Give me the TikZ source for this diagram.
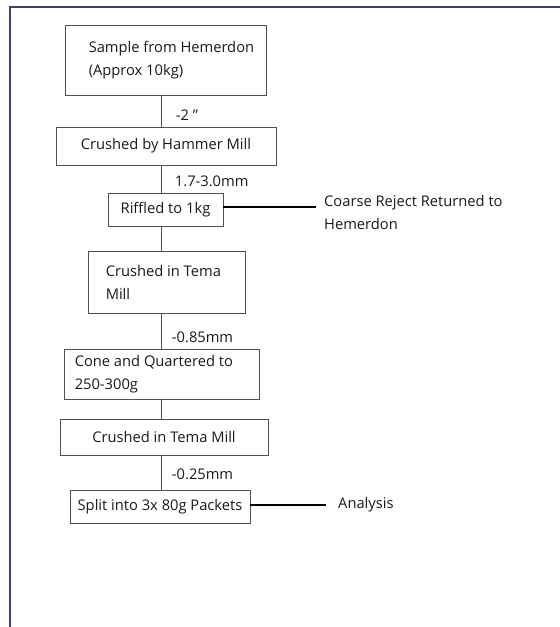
\documentclass[tikz,border=0pt]{standalone}
\usepackage{fontspec}
\setmainfont{Open Sans}
\usetikzlibrary{positioning, calc}
\definecolor{framepurple}{RGB}{74,56,120}
\definecolor{boxgray}{RGB}{80,80,80}
\tikzset{
  stage/.style={rectangle, draw=boxgray, line width=0.9pt, inner sep=0pt},
  stagetext/.style={align=left, inner sep=0pt},
  sizelabel/.style={inner sep=0pt},
  link/.style={draw=boxgray, line width=0.9pt},
  side/.style={draw=black, line width=2pt},
  outnote/.style={align=left, inner sep=0pt}
}

\begin{document}
\begin{tikzpicture}[x=1pt, y=-1pt, every node/.style={font=\fontsize{14.7}{23}\selectfont, text=black!90}]
    \useasboundingbox (0,0) rectangle (560,627);
    % frame
    \draw [framepurple, line width=2.5pt] (10,627) -- (10,7) -- (560,7);
    \coordinate (spine) at (161.5,0);

    \node (b1) [stage, minimum width=201pt, minimum height=70pt] at (165.5,60) {};
    \node (b1txt) [stagetext, right=24pt of b1.west] {Sample from Hemerdon\\(Approx 10kg)};

    \node (b2) [stage, minimum width=220pt, minimum height=38pt] at (166,146) {Crushed by Hammer Mill};

    \node (b3) [stage, minimum width=115pt, minimum height=33pt] at (165.5,209.5) {Riffled to 1kg};

    \node (b4) [stage, minimum width=157pt, minimum height=62pt] at (166.5,282) {};
    \node (b4txt) [stagetext, right=18pt of b4.west] {Crushed in Tema\\Mill};

    \node (b5) [stage, minimum width=195pt, minimum height=50pt] at (161.5,374) {};
    \node (b5txt) [stagetext, right=11pt of b5.west] {Cone and Quartered to\\250-300g};

    \node (b6) [stage, minimum width=208pt, minimum height=36pt] at (164,437) {Crushed in Tema Mill};

    \node (b7) [stage, minimum width=180pt, minimum height=33pt] at (160,506.5) {Split into 3x 80g Packets};

    \node (reject) [outnote, anchor=west] at (324,212) {Coarse Reject Returned to\\Hemerdon};
    \node (analysis) [outnote, anchor=west] at (338,505) {Analysis};
    \coordinate (rejectend) at (316,207);

    % Flechas
    \draw [link] (b1.south -| spine) -- node (cut1) [sizelabel, pos=0.62, right=14pt] {-2 "} (b2.north -| spine);
    \draw [link] (b2.south -| spine) -- node (cut2) [sizelabel, pos=0.57, right=13pt] {1.7-3.0mm} (b3.north -| spine);
    \draw [link] (b3.south -| spine) -- (b4.north -| spine);
    \draw [link] (b4.south -| spine) -- node (cut3) [sizelabel, pos=0.67, right=10pt] {-0.85mm} (b5.north -| spine);
    \draw [link] (b5.south -| spine) -- (b6.north -| spine);
    \draw [link] (b6.south -| spine) -- node (cut4) [sizelabel, pos=0.54, right=10pt] {-0.25mm} (b7.north -| spine);

    % salidas
    \draw [side] (b3.east |- rejectend) -- (rejectend);
    \draw [side, shorten >=12pt] (b7.east |- analysis) -- (analysis.west);
\end{tikzpicture}
\end{document}
